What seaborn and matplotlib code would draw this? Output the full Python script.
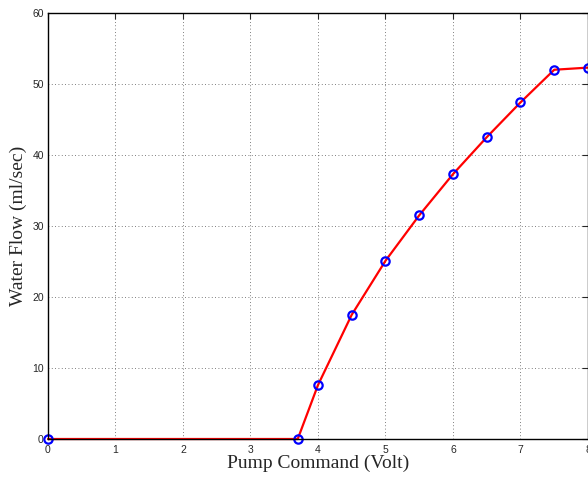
import matplotlib
matplotlib.use("Agg")
import matplotlib.pyplot as plt
import seaborn as sns
import pandas as pd

pump_volt = [0, 3.7, 4.0, 4.5, 5.0, 5.5, 6.0, 6.5, 7.0, 7.5, 8.0]
water_flow = [0, 0, 7.6, 17.5, 25.1, 31.5, 37.3, 42.5, 47.4, 52.0, 52.3]
x_ticks = [0, 1, 2, 3, 4, 5, 6, 7, 8]
y_ticks = [0, 10, 20, 30, 40, 50, 60]

sns.set_style("white")
plt.rcParams['font.family'] = ['Liberation Sans', 'DejaVu Sans']

df = pd.DataFrame({"x": pump_volt, "y": water_flow})

fig = plt.figure(figsize=(5.88, 4.79), dpi=100)
ax = fig.add_axes([0.0816, 0.0835, 0.9184, 0.8895])

sns.lineplot(data=df, x="x", y="y", ax=ax, color="red", linewidth=1.6,
             marker="o", markersize=6, markerfacecolor="none",
             markeredgecolor="blue", markeredgewidth=1.6, sort=False, clip_on=False)

ax.set_xlim(0, 8)
ax.set_ylim(0, 60)
ax.set_xticks(x_ticks)
ax.set_yticks(y_ticks)
ax.tick_params(direction="in", top=True, right=True, labelsize=7.5, length=4, width=0.8, pad=3)
ax.tick_params(axis="x", pad=4)
ax.grid(True, linestyle=(0, (1, 3)), color="#555555", linewidth=0.6)
for s in ax.spines.values():
    s.set_color("black")
    s.set_linewidth(1.0)
ax.set_xlabel("Pump Command (Volt)", family="Liberation Serif", fontsize=14, labelpad=0)
ax.set_ylabel("Water Flow (ml/sec)", family="Liberation Serif", fontsize=14, labelpad=4)

fig.savefig("out.png", dpi=100)
